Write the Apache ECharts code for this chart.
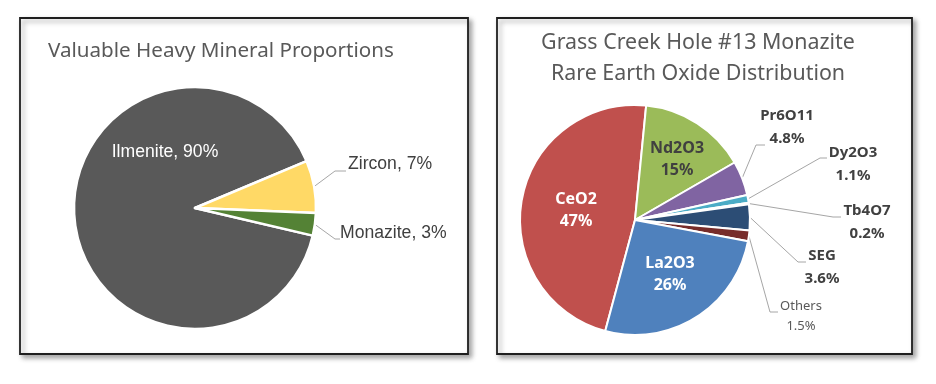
<!DOCTYPE html>
<html><head><meta charset="utf-8">
<script src="https://cdn.jsdelivr.net/npm/echarts@6/dist/echarts.min.js"></script>
<style>html,body{margin:0;padding:0;background:#fff}#c{width:936px;height:384px}</style>
</head><body><div id="c"></div>
<script>
// Left chart data
const mineralNames = ['Ilmenite', 'Zircon', 'Monazite'];
const mineralValues = [90, 7, 3];
// Right chart data
const oxideNames = ['CeO2', 'Nd2O3', 'Pr6O11', 'Dy2O3', 'Tb4O7', 'SEG', 'Others', 'La2O3'];
const oxideValues = [47, 15, 4.8, 1.1, 0.2, 3.6, 1.5, 26];

// styling
const mineralColors = ['#595959', '#FFD966', '#548235'];
const oxideColors = ['#C0504D', '#9BBB59', '#8064A2', '#4BACC6', '#F79646', '#2C4D75', '#772C2A', '#4F81BD'];

// label placements (x, y anchor; line bend point)
const mineralLabelPos = [
  {x: 165, y: 152, align: 'center'},
  {x: 348, y: 164, align: 'left', bend: [335, 171], end: [346, 171]},
  {x: 340, y: 233, align: 'left', bend: [335, 239], end: [340, 239]}
];
const oxideLabelPos = [
  {x: 576, y: 210},
  {x: 677, y: 159},
  {x: 787, y: 127, bend: [756, 145], end: [765, 145]},
  {x: 853, y: 164, bend: [820, 158], end: [827, 158]},
  {x: 867, y: 222, bend: [833, 217], end: [841, 217]},
  {x: 822, y: 267, bend: [798, 262], end: [806, 262]},
  {x: 801, y: 316, bend: [770, 312], end: [778, 312]},
  {x: 670, y: 274}
];

const chart = echarts.init(document.getElementById('c'), null, {renderer: 'canvas'});

const leftData = mineralNames.map((n, i) => ({
  name: n, value: mineralValues[i],
  itemStyle: {color: mineralColors[i]},
  label: i === 0 ? {position: 'inside', color: '#ffffff'} : {position: 'outside', color: '#404040'},
  labelLine: {show: i !== 0}
}));

const oxideInside = {CeO2: '#ffffff', Nd2O3: '#404040', La2O3: '#ffffff'};
const rightData = oxideNames.map((n, i) => {
  const inside = oxideInside[n] !== undefined;
  const isOther = n === 'Others';
  return {
    name: n, value: oxideValues[i],
    itemStyle: {color: oxideColors[i]},
    label: {
      position: inside ? 'inside' : 'outside',
      color: inside ? oxideInside[n] : (isOther ? '#595959' : '#404040'),
      fontWeight: isOther ? 'normal' : 'bold',
      fontSize: isOther ? 13 : (inside ? 16 : 15),
      lineHeight: isOther ? 20 : (inside ? 22 : 23)
    },
    labelLine: {show: !inside}
  };
});

function makeLayout(pos) {
  return function (params) {
    const p = pos[params.dataIndex];
    const out = {x: p.x, y: p.y, align: p.align || 'center', verticalAlign: 'middle'};
    if (p.bend && params.labelLinePoints) {
      out.labelLinePoints = [params.labelLinePoints[0], p.bend, p.end];
    }
    return out;
  };
}

chart.setOption({
  animation: false,
  backgroundColor: '#ffffff',
  graphic: [
    {type: 'rect', z: 0, shape: {x: 20, y: 18, width: 448, height: 336},
     style: {fill: '#fff', stroke: '#1f1f1f', lineWidth: 1.8, shadowBlur: 5, shadowOffsetX: 3, shadowOffsetY: 3, shadowColor: 'rgba(0,0,0,0.35)'}},
    {type: 'rect', z: 0, shape: {x: 497, y: 18, width: 415, height: 336},
     style: {fill: '#fff', stroke: '#1f1f1f', lineWidth: 1.8, shadowBlur: 5, shadowOffsetX: 3, shadowOffsetY: 3, shadowColor: 'rgba(0,0,0,0.35)'}}
  ],
  title: [
    {text: 'Valuable Heavy Mineral Proportions', left: 48, top: 38, padding: 0,
     textStyle: {fontFamily: 'Noto Sans', fontWeight: 'normal', fontSize: 20.6, color: '#595959', lineHeight: 26}},
    {text: 'Grass Creek Hole #13 Monazite\nRare Earth Oxide Distribution', left: 698, textAlign: 'center', top: 27, padding: 0,
     textStyle: {fontFamily: 'Noto Sans', fontWeight: 'normal', fontSize: 21.4, color: '#595959', lineHeight: 31}}
  ],
  series: [
    {
      type: 'pie', center: [195, 208], radius: 121, startAngle: 346.8, clockwise: true,
      avoidLabelOverlap: false,
      itemStyle: {borderColor: '#ffffff', borderWidth: 2.5},
      label: {formatter: p => p.name + ', ' + p.value + '%', fontFamily: 'Liberation Sans', fontSize: 17.6},
      labelLine: {lineStyle: {color: '#A6A6A6', width: 1}, length: 15, length2: 10},
      labelLayout: makeLayout(mineralLabelPos),
      data: leftData
    },
    {
      type: 'pie', center: [635, 220], radius: 115, startAngle: 255, clockwise: true,
      avoidLabelOverlap: false,
      itemStyle: {borderColor: '#ffffff', borderWidth: 2},
      label: {formatter: p => p.name + '\n' + p.value + '%', fontFamily: 'Noto Sans'},
      labelLine: {lineStyle: {color: '#A6A6A6', width: 1}, length: 15, length2: 10},
      labelLayout: makeLayout(oxideLabelPos),
      data: rightData
    }
  ]
});
</script></body></html>
